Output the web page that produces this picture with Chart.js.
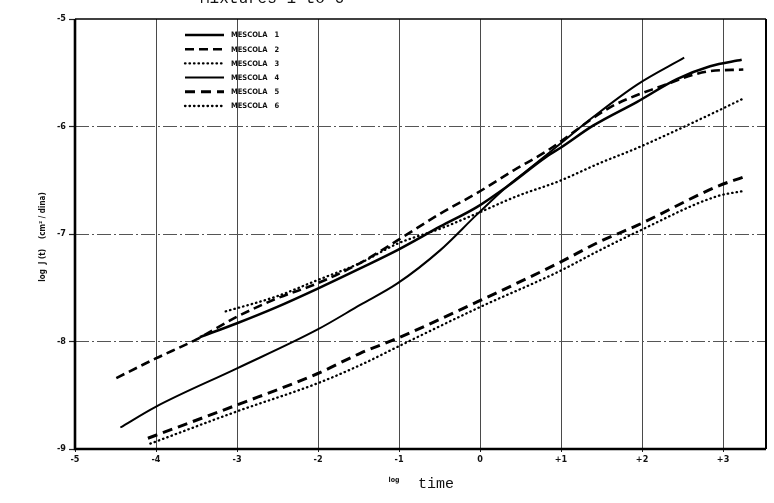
<!DOCTYPE html>
<html>
<head>
<meta charset="utf-8">
<script src="https://cdn.jsdelivr.net/npm/chart.js@4.4.0/dist/chart.umd.min.js"></script>
<style>
  html, body { margin: 0; padding: 0; background: #fff; }
</style>
</head>
<body>
<canvas id="creep" width="774" height="503"></canvas>
<script>
// axis ticks
var xTickValues = [-5, -4, -3, -2, -1, 0, 1, 2, 3];
var xTickLabels = ['-5', '-4', '-3', '-2', '-1', '0', '+1', '+2', '+3'];
var yTickValues = [-9, -8, -7, -6, -5];
var yTickLabels = ['-9', '-8', '-7', '-6', '-5'];

var seriesNames = ['MESCOLA 1', 'MESCOLA 2', 'MESCOLA 3', 'MESCOLA 4', 'MESCOLA 5', 'MESCOLA 6'];

// log time / log J(t)
var m1x = [-3.46, -3.00, -2.51, -2.01, -1.48, -1.02, -0.49, -0.04, 0.33, 0.82, 0.99, 1.40, 1.94, 2.43, 2.84, 3.23];
var m1y = [-7.96, -7.83, -7.68, -7.51, -7.32, -7.15, -6.93, -6.75, -6.56, -6.28, -6.20, -5.99, -5.77, -5.56, -5.44, -5.38];

var m2x = [-4.49, -4.01, -3.50, -3.00, -2.51, -2.01, -1.48, -1.02, -0.49, -0.04, 0.41, 0.82, 1.61, 2.22, 2.80, 3.25];
var m2y = [-8.34, -8.16, -7.98, -7.77, -7.60, -7.46, -7.27, -7.06, -6.81, -6.62, -6.41, -6.23, -5.82, -5.63, -5.49, -5.47];

var m3x = [-3.14, -2.51, -2.01, -1.48, -1.02, -0.49, -0.04, 0.45, 0.97, 1.48, 1.94, 2.92, 3.25];
var m3y = [-7.72, -7.58, -7.43, -7.27, -7.09, -6.95, -6.81, -6.65, -6.51, -6.34, -6.20, -5.86, -5.74];

var m4x = [-4.44, -4.01, -3.00, -2.01, -1.48, -1.02, -0.49, -0.04, 0.33, 0.58, 0.99, 1.40, 1.94, 2.52];
var m4y = [-8.80, -8.61, -8.25, -7.89, -7.66, -7.46, -7.15, -6.82, -6.56, -6.41, -6.16, -5.91, -5.61, -5.36];

var m5x = [-4.10, -3.00, -2.01, -1.48, -1.02, -0.03, 0.97, 1.48, 1.94, 2.92, 3.25];
var m5y = [-8.90, -8.59, -8.30, -8.11, -7.97, -7.63, -7.27, -7.07, -6.92, -6.56, -6.47];

var m6x = [-4.07, -3.00, -2.01, -1.48, -1.02, -0.03, 0.97, 1.48, 1.94, 2.92, 3.25];
var m6y = [-8.95, -8.65, -8.39, -8.22, -8.05, -7.69, -7.35, -7.15, -6.98, -6.65, -6.60];

function pts(xs, ys) {
  return xs.map(function (x, i) { return { x: x, y: ys[i] }; });
}

var solid = [];
var dash = [9, 5];
var dot = [0.5, 4];

function ds(i, xs, ys, width, pattern) {
  return {
    label: seriesNames[i],
    data: pts(xs, ys),
    borderColor: '#000',
    borderWidth: width,
    borderDash: pattern,
    borderCapStyle: pattern === dot ? 'round' : 'butt',
    pointRadius: 0,
    fill: false,
    cubicInterpolationMode: 'monotone'
  };
}

var datasets = [
  ds(0, m1x, m1y, 2.6, solid),
  ds(1, m2x, m2y, 2.6, dash),
  ds(2, m3x, m3y, 2.3, dot),
  ds(3, m4x, m4y, 2, solid),
  ds(4, m5x, m5y, 3, [10, 6]),
  ds(5, m6x, m6y, 2.3, dot)
];

var tickFont = { family: '"DejaVu Sans Condensed", "DejaVu Sans", sans-serif', size: 9, weight: 'bold' };

// frame, titles and in-plot legend
var extras = {
  id: 'extras',
  afterDatasetsDraw: function (chart) {
    var ctx = chart.ctx, a = chart.chartArea;
    ctx.save();
    ctx.strokeStyle = '#000';
    ctx.setLineDash([]);
    ctx.lineWidth = 1.5;
    ctx.beginPath(); ctx.moveTo(a.left, a.top); ctx.lineTo(a.right, a.top); ctx.stroke();
    ctx.lineWidth = 2;
    ctx.beginPath(); ctx.moveTo(a.right, a.top); ctx.lineTo(a.right, a.bottom); ctx.stroke();
    ctx.lineWidth = 2.6;
    ctx.beginPath(); ctx.moveTo(a.left, a.top); ctx.lineTo(a.left, a.bottom); ctx.lineTo(a.right, a.bottom); ctx.stroke();
    ctx.restore();
  },
  afterDraw: function (chart) {
    var ctx = chart.ctx;
    ctx.save();
    ctx.fillStyle = '#111';

    // title, cut off by the top edge
    ctx.font = '16px "Liberation Mono", monospace';
    ctx.textAlign = 'center';
    ctx.textBaseline = 'alphabetic';
    ctx.fillText('Mixtures 1 to 6', 272, 3);

    // x axis title
    ctx.font = 'bold 7px "DejaVu Sans Condensed", sans-serif';
    ctx.fillText('log', 394, 482);
    ctx.font = '15px "Liberation Mono", monospace';
    ctx.textAlign = 'left';
    ctx.fillText('time', 418, 488);

    // y axis title
    ctx.translate(43, 237);
    ctx.rotate(-Math.PI / 2);
    ctx.textAlign = 'center';
    ctx.textBaseline = 'middle';
    ctx.font = 'bold 8px "DejaVu Sans Condensed", sans-serif';
    ctx.fillText('log  J (t)    (cm\u00B2 / dina)', 0, 0);
    ctx.restore();

    // legend
    ctx.save();
    var x0 = 185, x1 = 224, top = 35, step = 14.2;
    chart.data.datasets.forEach(function (d, i) {
      var y = top + i * step;
      ctx.strokeStyle = '#000';
      ctx.lineWidth = d.borderWidth;
      ctx.lineCap = d.borderCapStyle;
      ctx.setLineDash(d.borderDash);
      ctx.beginPath(); ctx.moveTo(x0, y); ctx.lineTo(x1, y); ctx.stroke();
      ctx.setLineDash([]);
      ctx.fillStyle = '#111';
      ctx.font = 'bold 7.5px "DejaVu Sans Condensed", sans-serif';
      ctx.textAlign = 'left';
      ctx.textBaseline = 'middle';
      ctx.fillText(d.label.replace(' ', '   '), 231, y + 0.5);
    });
    ctx.restore();
  }
};

new Chart(document.getElementById('creep'), {
  type: 'line',
  data: { datasets: datasets },
  options: {
    responsive: false,
    animation: false,
    layout: { padding: { top: 19, right: 8, left: 0, bottom: 0 } },
    plugins: { legend: { display: false }, tooltip: { enabled: false } },
    scales: {
      x: {
        type: 'linear',
        min: -5,
        max: 3.53,
        afterBuildTicks: function (s) { s.ticks = xTickValues.map(function (v) { return { value: v }; }); },
        afterFit: function (s) { s.height = 54; },
        ticks: {
          autoSkip: false,
          maxRotation: 0,
          padding: 2,
          color: '#111',
          font: tickFont,
          callback: function (v) { var i = xTickValues.indexOf(v); return i < 0 ? '' : xTickLabels[i]; }
        },
        grid: {
          color: function (c) { return c.tick && c.tick.value === -5 ? 'rgba(0,0,0,0)' : '#4a4a4a'; },
          lineWidth: 1,
          tickLength: 3,
          tickColor: '#222'
        },
        border: { display: false }
      },
      y: {
        type: 'linear',
        min: -9,
        max: -5,
        afterBuildTicks: function (s) { s.ticks = yTickValues.map(function (v) { return { value: v }; }); },
        afterFit: function (s) { s.width = 75; },
        ticks: {
          padding: 3,
          color: '#111',
          font: tickFont,
          callback: function (v) { var i = yTickValues.indexOf(v); return i < 0 ? '' : yTickLabels[i]; }
        },
        grid: {
          color: function (c) { return c.tick && (c.tick.value === -9 || c.tick.value === -5) ? 'rgba(0,0,0,0)' : '#555'; },
          lineWidth: 1,
          tickLength: 6,
          tickColor: '#222',
          tickWidth: 1.2
        },
        border: { display: false, dash: [14, 3, 2, 3] }
      }
    }
  },
  plugins: [extras]
});
</script>
</body>
</html>
